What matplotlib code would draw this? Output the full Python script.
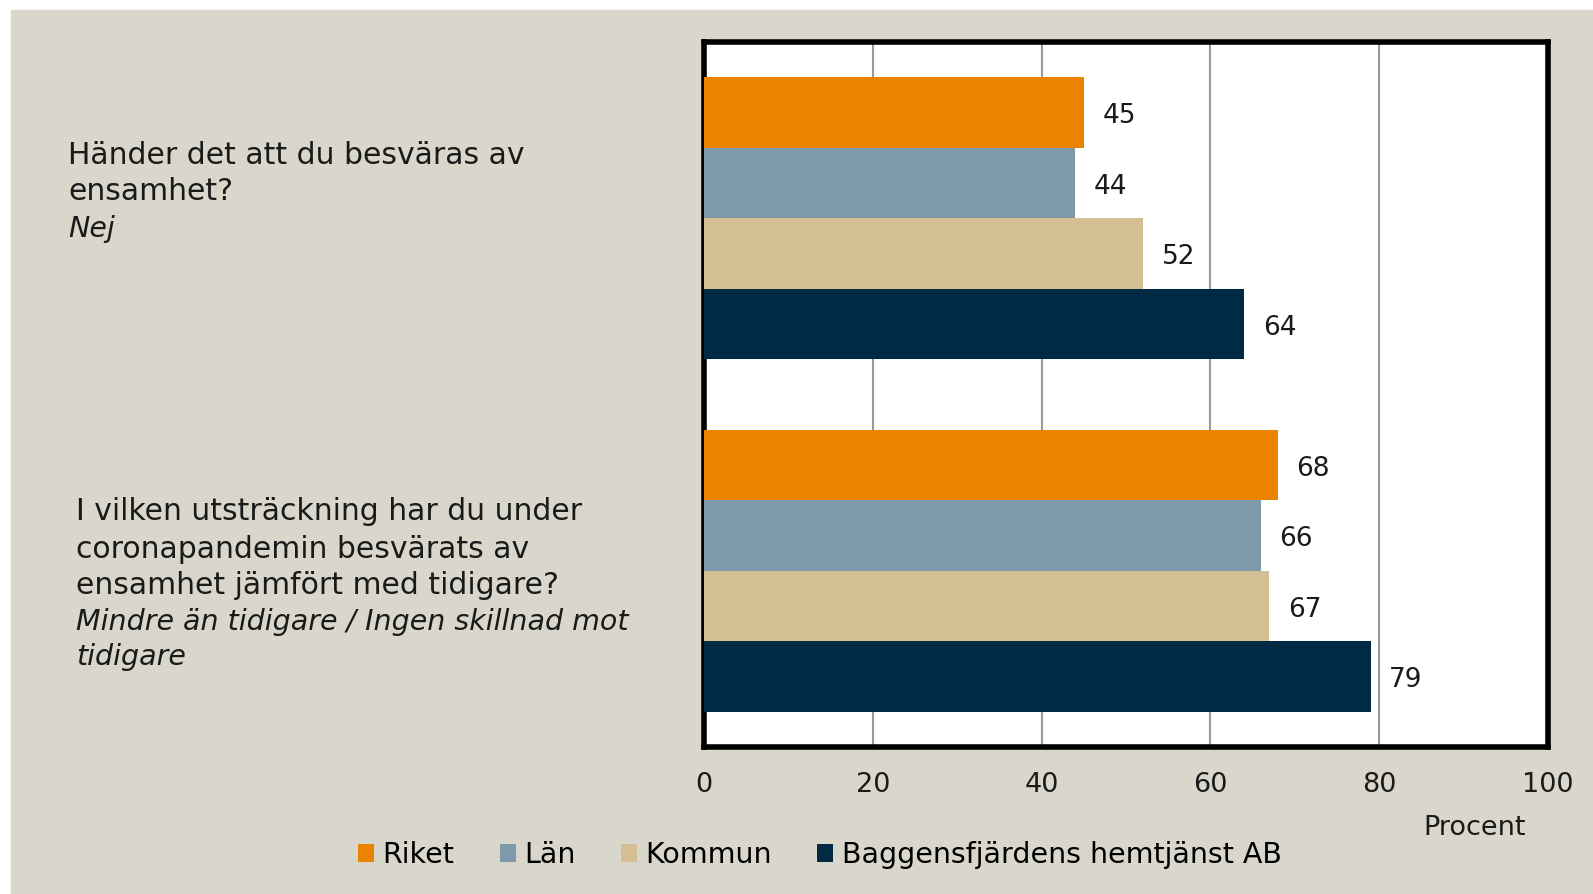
import numpy as np
import matplotlib
matplotlib.use("Agg")
import matplotlib.pyplot as plt
from matplotlib.patches import Patch

series = ["Riket", "Län", "Kommun", "Baggensfjärdens hemtjänst AB"]
colors = ["#E98300", "#7D99AA", "#D4BF95", "#002A44"]
# values per series: [question 1, question 2]
riket = [45, 68]
lan = [44, 66]
kommun = [52, 67]
baggen = [64, 79]
values = [riket, lan, kommun, baggen]
xticks = [0, 20, 40, 60, 80, 100]

bg = "#D9D7CB"
font = "DejaVu Sans"
plt.rcParams["font.family"] = [font]


def main():
    fig = plt.figure(figsize=(15.93, 8.94), dpi=100)
    fig.patch.set_facecolor("white")
    # beige panel with thin white strip at top and left
    fig.add_artist(plt.Rectangle((11 / 1593, 0), 1, 1 - 10 / 894,
                                 transform=fig.transFigure, color=bg, zorder=0))

    ax = fig.add_axes([704 / 1593, 1 - 747 / 894, 844 / 1593, 705 / 894])
    ax.set_facecolor("white")

    h = 0.2
    cats = np.arange(2)
    for i, (vals, c) in enumerate(zip(values, colors)):
        ypos = cats - 0.3 + i * h
        ax.barh(ypos, vals, height=h, color=c, zorder=3)
        for y, v in zip(ypos, vals):
            ax.text(v + 2.2, y + 0.01, str(v), va="center", ha="left", fontsize=19,
                    color="#1a1a1a", zorder=4)

    ax.set_ylim(1.5, -0.5)
    ax.set_xlim(0, 100)
    ax.set_xticks(xticks)
    ax.set_xticklabels([str(t) for t in xticks], fontsize=19.5, color="#1a1a1a")
    ax.set_yticks([])
    ax.tick_params(axis="x", length=0, pad=18)
    ax.grid(axis="x", color="#999999", linewidth=1.5, zorder=1)
    for s in ax.spines.values():
        s.set_linewidth(4)
        s.set_color("black")

    fig.text(1475 / 1593, 1 - 828 / 894, "Procent", ha="center", va="center",
             fontsize=19.5, color="#1a1a1a")

    # question labels
    q1 = ["Händer det att du besväras av", "ensamhet?"]
    q1_it = ["Nej"]
    q2 = ["I vilken utsträckning har du under", "coronapandemin besvärats av",
          "ensamhet jämfört med tidigare?"]
    q2_it = ["Mindre än tidigare / Ingen skillnad mot", "tidigare"]
    ys1 = [156, 192, 229]
    ys2 = [512, 549, 586, 622, 657]
    for t, y in zip(q1 + q1_it, ys1):
        it = t in q1_it
        fig.text(68 / 1593, 1 - y / 894, t, ha="left", va="center",
                 fontsize=20.5 if it else 21.5,
                 style="italic" if it else "normal", color="#1a1a1a")
    for t, y in zip(q2 + q2_it, ys2):
        it = t in q2_it
        fig.text(76 / 1593, 1 - y / 894, t, ha="left", va="center",
                 fontsize=20.5 if it else 21.5,
                 style="italic" if it else "normal", color="#1a1a1a")

    handles = [Patch(facecolor=c, label=s) for s, c in zip(series, colors)]
    fig.legend(handles=handles, loc="center", ncol=4, frameon=False,
               bbox_to_anchor=(820 / 1593, 1 - 855 / 894), fontsize=20.5,
               handlelength=0.55, handleheight=0.55, handletextpad=0.3,
               columnspacing=1.6)

    fig.savefig("out.png", dpi=100, facecolor=fig.get_facecolor())


if __name__ == "__main__":
    main()
